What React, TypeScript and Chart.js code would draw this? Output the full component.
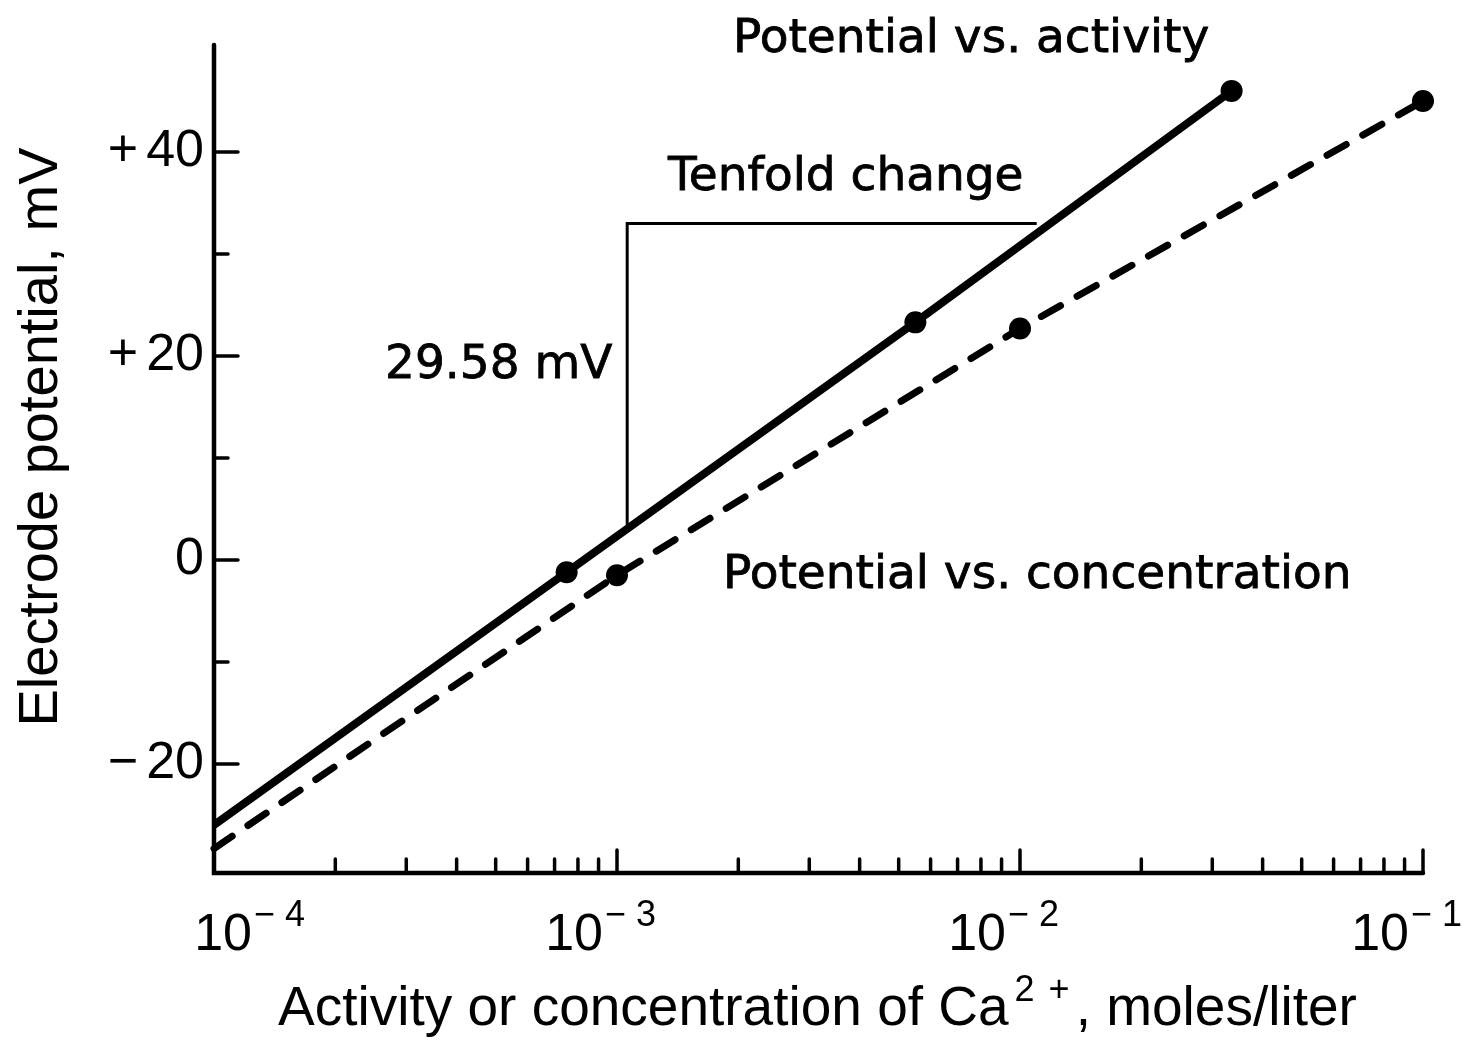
import { useEffect, useRef } from 'react';
import { Chart, registerables } from 'chart.js';

Chart.register(...registerables);

// Data
const activityX = [1e-4, 7.5e-4, 5.5e-3, 3.35e-2];
const activityY = [-26, -1.2, 23.3, 46.0];
const concentrationX = [1e-4, 1e-3, 1e-2, 1e-1];
const concentrationY = [-28.3, -1.5, 22.7, 45.0];
const markerVisible = [false, true, true, true];
const triangleX = [1.06e-3, 1.06e-3, 1.1e-2];
const triangleY = [3.0, 33.0, 33.0];

// Axes / ticks
const yMin = -30.7;
const yMax = 50.5;
const yTickValues = [-20, -10, 0, 10, 20, 30, 40];
const yLabelValues = [-20, 0, 20, 40];
const yLabelSigns = ['\u2212', '', '+', '+'];
const yLabelNumbers = ['20', '0', '20', '40'];
const xDecadeExponents = [-4, -3, -2, -1];
const xExponentLabels = ['4', '3', '2', '1'];
const xMin = 1e-4;
const xMax = 1e-1;

const annotationTexts = {
  activity: 'Potential vs. activity',
  concentration: 'Potential vs. concentration',
  tenfold: 'Tenfold change',
  slope: '29.58 mV',
};
const xTitleMain = 'Activity or concentration of Ca';
const xTitleTail = ', moles/liter';
const yTitle = 'Electrode potential, mV';

const axesPlugin = {
  id: 'customAxes',
  beforeDatasetsDraw(chart: any) {
    const ctx = chart.ctx;
    const xs = chart.scales.x;
    const ys = chart.scales.y;
    const { left, right, top, bottom } = chart.chartArea;
    ctx.save();
    ctx.strokeStyle = '#000';
    ctx.lineCap = 'round';
    ctx.lineWidth = 4.5;
    ctx.beginPath();
    ctx.moveTo(left, top);
    ctx.lineTo(left, bottom);
    ctx.lineTo(right, bottom);
    ctx.stroke();
    ctx.lineWidth = 3.5;
    for (const v of yTickValues) {
      const y = ys.getPixelForValue(v);
      const len = v % 20 === 0 ? 24 : 14;
      ctx.beginPath();
      ctx.moveTo(left, y);
      ctx.lineTo(left + len, y);
      ctx.stroke();
    }
    for (const e of xDecadeExponents) {
      for (let m = 1; m <= 9; m++) {
        if (e === -4 && m === 1) continue;
        if (e === -1 && m > 1) continue;
        const v = m * Math.pow(10, e);
        const x = xs.getPixelForValue(v);
        const len = m === 1 ? 23 : 14;
        ctx.beginPath();
        ctx.moveTo(x, bottom);
        ctx.lineTo(x, bottom - len);
        ctx.stroke();
      }
    }
    ctx.restore();
  },
  afterDraw(chart: any) {
    const ctx = chart.ctx;
    const xs = chart.scales.x;
    const ys = chart.scales.y;
    const { left } = chart.chartArea;
    ctx.save();
    ctx.fillStyle = '#000';
    ctx.strokeStyle = '#000';

    // y tick labels
    ctx.font = '52px "Liberation Sans"';
    ctx.textBaseline = 'middle';
    ctx.textAlign = 'right';
    yLabelValues.forEach((v, i) => {
      const y = ys.getPixelForValue(v);
      const xr = left - 10;
      ctx.fillText(yLabelNumbers[i], xr, y);
      if (yLabelSigns[i]) {
        const w = ctx.measureText(yLabelNumbers[i]).width;
        ctx.fillText(yLabelSigns[i], xr - w - 8, y);
      }
    });

    // x tick labels 10^n
    ctx.textBaseline = 'alphabetic';
    xDecadeExponents.forEach((e, i) => {
      const x = xs.getPixelForValue(Math.pow(10, e));
      const textRight = Math.max(x - 14, left + 38);
      const base = 950;
      ctx.font = '52px "Liberation Sans"';
      ctx.textAlign = 'right';
      ctx.fillText('10', textRight, base);
      ctx.textAlign = 'left';
      ctx.font = '36px "Liberation Sans"';
      ctx.fillText('\u2212', textRight + 2, base - 24);
      const mw = ctx.measureText('\u2212').width;
      ctx.fillText(xExponentLabels[i], textRight + 2 + mw + 10, base - 24);
    });

    // annotations
    ctx.textAlign = 'left';
    ctx.font = '47px "DejaVu Sans"';
    ctx.lineWidth = 0.8;
    const ann: [string, number, number][] = [
      [annotationTexts.activity, 733, 52],
      [annotationTexts.tenfold, 668, 190],
      [annotationTexts.slope, 385, 378],
      [annotationTexts.concentration, 723, 588],
    ];
    ann.forEach(([t, ax, ay]) => {
      ctx.fillText(t, ax, ay);
      ctx.strokeText(t, ax, ay);
    });

    // x title
    let x = 278;
    const tb = 1025;
    ctx.font = '55px "Liberation Sans"';
    ctx.fillText(xTitleMain, x, tb);
    x += ctx.measureText(xTitleMain).width + 6;
    ctx.font = '36px "Liberation Sans"';
    ctx.fillText('2', x, tb - 24);
    x += ctx.measureText('2').width + 14;
    ctx.fillText('+', x, tb - 24);
    x += ctx.measureText('+').width + 6;
    ctx.font = '55px "Liberation Sans"';
    ctx.fillText(xTitleTail, x, tb);

    // y title
    ctx.translate(57, 437);
    ctx.rotate(-Math.PI / 2);
    ctx.textAlign = 'center';
    ctx.font = '56px "Liberation Sans"';
    ctx.fillText(yTitle, 0, 0);
    ctx.restore();
  },
};

export default function App() {
  const canvasRef = useRef<HTMLCanvasElement | null>(null);

  useEffect(() => {
    const canvas = canvasRef.current;
    if (!canvas) return;
    const chart = new Chart(canvas, {
      type: 'line',
      data: {
        datasets: [
          {
            label: 'Tenfold',
            data: triangleX.map((x, i) => ({ x, y: triangleY[i] })),
            borderColor: '#000',
            borderWidth: 3,
            pointRadius: 0,
            tension: 0,
            clip: false as any,
          },
          {
            label: 'Potential vs. activity',
            data: activityX.map((x, i) => ({ x, y: activityY[i] })),
            borderColor: '#000',
            backgroundColor: '#000',
            borderWidth: 8,
            pointRadius: markerVisible.map((v) => (v ? 11 : 0)),
            pointBackgroundColor: '#000',
            pointBorderWidth: 0,
            tension: 0,
            clip: false as any,
          },
          {
            label: 'Potential vs. concentration',
            data: concentrationX.map((x, i) => ({ x, y: concentrationY[i] })),
            borderColor: '#000',
            backgroundColor: '#000',
            borderWidth: 7,
            borderDash: [22, 19],
            borderCapStyle: 'round',
            pointRadius: markerVisible.map((v) => (v ? 11 : 0)),
            pointBackgroundColor: '#000',
            pointBorderWidth: 0,
            tension: 0,
            clip: false as any,
          },
        ],
      },
      options: {
        animation: false,
        responsive: false,
        layout: { padding: { left: 214, right: 54, top: 45, bottom: 168 } },
        plugins: {
          legend: { display: false },
          tooltip: { enabled: false },
          title: { display: false },
        },
        scales: {
          x: { type: 'logarithmic', min: xMin, max: xMax, display: false },
          y: { type: 'linear', min: yMin, max: yMax, display: false },
        },
      },
      plugins: [axesPlugin],
    });
    return () => chart.destroy();
  }, []);

  return (
    <div style={{ position: 'absolute', left: 0, top: 0, width: 1477, height: 1041, background: '#fff' }}>
      <canvas ref={canvasRef} width={1477} height={1041} style={{ display: 'block' }} />
    </div>
  );
}
